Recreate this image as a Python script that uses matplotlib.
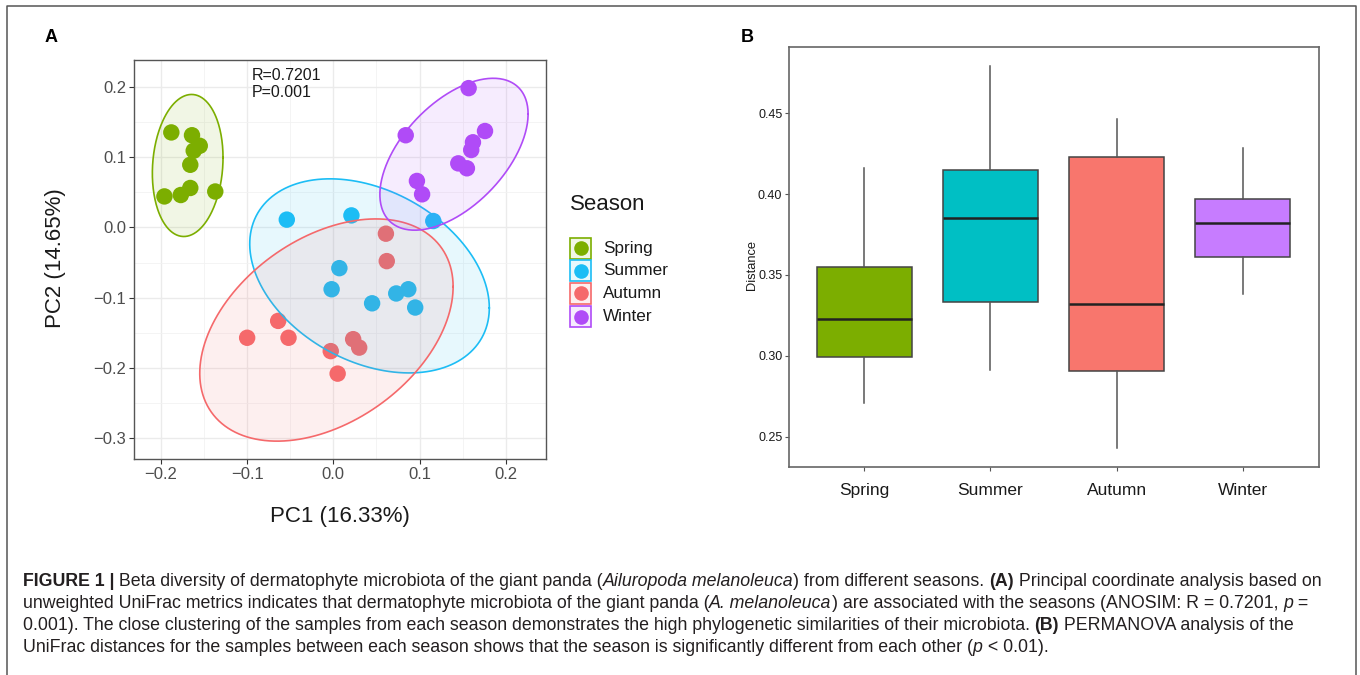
import numpy as np
import matplotlib
matplotlib.use("Agg")
import matplotlib.pyplot as plt
from matplotlib.patches import Rectangle
from matplotlib.lines import Line2D
from matplotlib.font_manager import FontProperties
from matplotlib.ticker import FuncFormatter

plt.rcParams['font.family'] = ['Liberation Sans', 'DejaVu Sans']

seasons = ['Spring', 'Summer', 'Autumn', 'Winter']

# panel A - PCoA scores
spring_pc1 = [-0.188, -0.164, -0.155, -0.162, -0.166, -0.196, -0.177, -0.166, -0.137]
spring_pc2 = [0.135, 0.131, 0.116, 0.109, 0.089, 0.044, 0.046, 0.056, 0.051]
summer_pc1 = [-0.054, 0.021, 0.007, -0.002, 0.045, 0.073, 0.087, 0.095, 0.116]
summer_pc2 = [0.011, 0.017, -0.058, -0.088, -0.108, -0.094, -0.088, -0.114, 0.009]
autumn_pc1 = [0.061, 0.062, -0.064, -0.100, -0.052, -0.003, 0.005, 0.023, 0.030]
autumn_pc2 = [-0.009, -0.048, -0.133, -0.157, -0.157, -0.176, -0.208, -0.159, -0.171]
winter_pc1 = [0.157, 0.084, 0.176, 0.162, 0.160, 0.145, 0.155, 0.097, 0.103]
winter_pc2 = [0.198, 0.131, 0.137, 0.121, 0.110, 0.091, 0.084, 0.066, 0.047]

# confidence ellipses: centre, half extents, tilt (correlation)
ell_cx = [-0.169, 0.042, -0.008, 0.140]
ell_cy = [0.088, -0.069, -0.146, 0.104]
ell_rx = [0.041, 0.139, 0.147, 0.086]
ell_ry = [0.101, 0.138, 0.158, 0.108]
ell_rho = [0.11, -0.33, 0.39, 0.53]

anosim_text = "R=0.7201\nP=0.001"

# panel B - boxplot of distances
box_whislo = [0.271, 0.291, 0.243, 0.338]
box_q1 = [0.299, 0.333, 0.2905, 0.3613]
box_med = [0.3225, 0.385, 0.332, 0.3823]
box_q3 = [0.355, 0.4147, 0.4228, 0.3972]
box_whishi = [0.416, 0.4795, 0.4467, 0.4283]

col_a = ['#7CAE00', '#1CBDF5', '#F5696B', '#B04BF7']
col_b = ['#7CAE00', '#00BFC4', '#F8766D', '#C77CFF']

W, H = 1360, 675
fig = plt.figure(figsize=(W / 100, H / 100), dpi=100)


def rect(l, t, r, b):
    return [l / W, 1 - b / H, (r - l) / W, (b - t) / H]


def fx(x):
    return x / W


def fy(y):
    return 1 - y / H


minus_fmt = FuncFormatter(lambda v, p: ('%.1f' % v).replace('-', '\u2212') if abs(v) > 1e-9 else '0.0')

# ---------------- panel A ----------------
axA = fig.add_axes(rect(134, 60, 545.5, 459))
pc1 = [spring_pc1, summer_pc1, autumn_pc1, winter_pc1]
pc2 = [spring_pc2, summer_pc2, autumn_pc2, winter_pc2]
for i in range(4):
    axA.scatter(pc1[i], pc2[i], s=140, color=col_a[i], edgecolors='none', zorder=2)
t = np.linspace(0, 2 * np.pi, 300)
for i in range(4):
    ex = ell_cx[i] + ell_rx[i] * np.cos(t)
    ey = ell_cy[i] + ell_ry[i] * (ell_rho[i] * np.cos(t) + np.sqrt(1 - ell_rho[i] ** 2) * np.sin(t))
    axA.fill(ex, ey, facecolor=col_a[i], alpha=0.1, edgecolor='none', zorder=3)
    axA.plot(ex, ey, color=col_a[i], lw=1.2, zorder=3)

axA.set_xticks([-0.2, -0.1, 0.0, 0.1, 0.2])
axA.set_yticks([-0.3, -0.2, -0.1, 0.0, 0.1, 0.2])
axA.set_xticks([-0.2, -0.15, -0.1, -0.05, 0.0, 0.05, 0.1, 0.15, 0.2], minor=True)
axA.set_yticks([-0.3, -0.25, -0.2, -0.15, -0.1, -0.05, 0.0, 0.05, 0.1, 0.15, 0.2], minor=True)
axA.set_xlim(-0.2313, 0.2462)
axA.set_ylim(-0.3294, 0.238)
axA.xaxis.set_major_formatter(minus_fmt)
axA.yaxis.set_major_formatter(minus_fmt)
axA.grid(which='major', color='#EBEBEB', lw=1.0, zorder=0)
axA.grid(which='minor', color='#F2F2F2', lw=0.6, zorder=0)
axA.set_axisbelow(True)
axA.tick_params(which='minor', length=0)
axA.tick_params(which='major', length=3.5, width=0.8, color='#333333',
                labelsize=12, labelcolor='#4D4D4D', pad=2)
for s in axA.spines.values():
    s.set_color('#555555')
    s.set_linewidth(1.0)
axA.text(0.2857, 0.907, anosim_text, transform=axA.transAxes, fontsize=11.5,
         va='baseline', ha='left', linespacing=1.15, color='#1A1A1A')
axA.text(0.501, -0.118, 'PC1 (16.33%)', transform=axA.transAxes, fontsize=16,
         ha='center', va='top', color='#1A1A1A')
axA.text((55 - 134) / 411.5, 0.504, 'PC2 (14.65%)', transform=axA.transAxes,
         fontsize=16, rotation=90, ha='center', va='center', color='#1A1A1A')

# legend drawn by hand, ggplot style
fig.text(fx(570), fy(210), 'Season', fontsize=16, ha='left', va='baseline', color='#1A1A1A')
key_y = [248, 270.5, 293.5, 316.5]
for i in range(4):
    fig.add_artist(Rectangle((fx(570), fy(key_y[i] + 10.5)), 21 / W, 21 / H,
                             transform=fig.transFigure, facecolor=col_a[i] + '1A',
                             edgecolor=col_a[i], lw=1.2))
    fig.add_artist(Line2D([fx(580.5)], [fy(key_y[i])], marker='o', ms=10.5, color=col_a[i],
                          mec='none', transform=fig.transFigure))
    fig.text(fx(603), fy(key_y[i]), seasons[i], fontsize=12.3, ha='left', va='center',
             color='#1A1A1A')

# ---------------- panel B ----------------
axB = fig.add_axes(rect(788.5, 46.7, 1318.5, 466.7))
stats = []
for i in range(4):
    stats.append({'med': box_med[i], 'q1': box_q1[i], 'q3': box_q3[i],
                  'whislo': box_whislo[i], 'whishi': box_whishi[i], 'fliers': []})
bp = axB.bxp(stats, positions=[1, 2, 3, 4], widths=0.75, patch_artist=True,
             showfliers=False, showcaps=False,
             boxprops=dict(edgecolor='#444444', lw=1.1),
             medianprops=dict(color='#222222', lw=1.8),
             whiskerprops=dict(color='#555555', lw=1.1))
for patch, c in zip(bp['boxes'], col_b):
    patch.set_facecolor(c)
axB.set_xticks([1, 2, 3, 4])
axB.set_xticklabels(seasons)
axB.set_yticks([0.25, 0.30, 0.35, 0.40, 0.45])
axB.set_xlim(0.4, 4.6)
axB.set_ylim(0.2314, 0.4912)
axB.yaxis.set_major_formatter(matplotlib.ticker.FormatStrFormatter('%.2f'))
axB.tick_params(axis='x', length=3, width=0.8, color='#555555', labelsize=12.5,
                labelcolor='#1A1A1A', pad=9)
axB.tick_params(axis='y', length=3, width=0.8, color='#555555', labelsize=9,
                labelcolor='#1A1A1A', pad=1.5)
for s in axB.spines.values():
    s.set_color('#666666')
    s.set_linewidth(1.2)
axB.text((752 - 788.5) / 530, (466.7 - 265) / 420, 'Distance', transform=axB.transAxes,
         fontsize=9.3, rotation=90, ha='center', va='center', color='#1A1A1A')

# panel letters
fig.text(fx(51), fy(38), 'A', fontsize=13, fontweight='bold', ha='center', va='center')
fig.text(fx(747), fy(38), 'B', fontsize=13, fontweight='bold', ha='center', va='center')

# outer frame (open at the bottom)
fig.add_artist(Line2D([fx(7), fx(7), fx(1355.5), fx(1355.5)], [0, fy(6), fy(6), 0],
                      transform=fig.transFigure, color='#555555', lw=1.1))

# ---------------- caption ----------------
N, B_, I_ = ('normal', 'normal'), ('bold', 'normal'), ('normal', 'italic')
cap_lines = [
    [("FIGURE 1 |", B_), (" Beta diversity of dermatophyte microbiota of the giant panda (", N),
     ("Ailuropoda melanoleuca", I_), (") from different seasons. ", N), ("(A)", B_),
     (" Principal coordinate analysis based on", N)],
    [("unweighted UniFrac metrics indicates that dermatophyte microbiota of the giant panda (", N),
     ("A. melanoleuca", I_), (") are associated with the seasons (ANOSIM: R = 0.7201, ", N),
     ("p", I_), (" =", N)],
    [("0.001). The close clustering of the samples from each season demonstrates the high "
      "phylogenetic similarities of their microbiota. ", N), ("(B)", B_),
     (" PERMANOVA analysis of the", N)],
    [("UniFrac distances for the samples between each season shows that the season is "
      "significantly different from each other (", N), ("p", I_), (" < 0.01).", N)],
]
cap_base = [586, 608, 630, 652]
cap_x0 = 22.7
renderer = fig.canvas.get_renderer()


def adv(s, size, style):
    fp = FontProperties(family='Liberation Sans', size=size, weight=style[0], style=style[1])
    w1 = renderer.get_text_width_height_descent(s + 'l', fp, ismath=False)[0]
    w2 = renderer.get_text_width_height_descent('l', fp, ismath=False)[0]
    return w1 - w2


ref = sum(adv(s, 10, st) for s, st in cap_lines[0])
cap_size = 10 * (1330 - cap_x0) / ref
for line, yb in zip(cap_lines, cap_base):
    x = cap_x0
    for s, st in line:
        fig.text(fx(x), fy(yb), s, fontsize=cap_size, fontweight=st[0], fontstyle=st[1],
                 ha='left', va='baseline', color='#231F20')
        x += adv(s, cap_size, st)

fig.savefig('out.png', dpi=100)
